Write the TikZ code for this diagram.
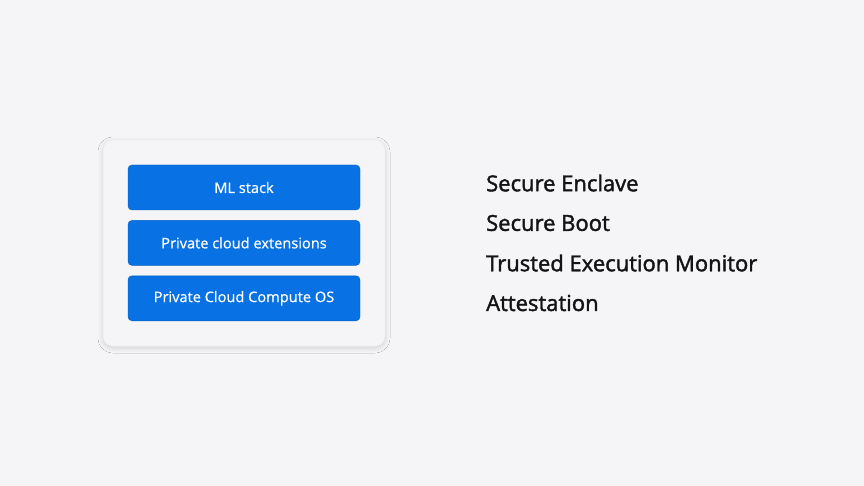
\documentclass[tikz,border=0pt]{standalone}
\usepackage{fontspec}
\setmainfont{Open Sans}
\newfontfamily\featurefont[FakeBold=1.8]{Open Sans}
\newfontfamily\layerfont[FakeBold=0.6]{Open Sans}
\usetikzlibrary{positioning,shadows.blur}
\definecolor{pagebg}{RGB}{245,245,247}
\definecolor{cardbg}{RGB}{245,245,247}
\definecolor{appleblue}{RGB}{8,113,227}
\definecolor{inktext}{RGB}{20,20,22}
\tikzset{
  layerbox/.style={draw=appleblue!85!black, line width=0.4pt, fill=appleblue, rounded corners=4pt,
    minimum width=232pt, minimum height=45pt, text=white, font=\layerfont\fontsize{14.6}{18}\selectfont},
  feature/.style={anchor=west, inner sep=0pt, text=inktext, font=\featurefont\fontsize{22}{27}\selectfont}
}
\begin{document}
\begin{tikzpicture}[x=1pt, y=-1pt, node distance=10pt]
  \fill[pagebg] (0,0) rectangle (864,486);
  \useasboundingbox (0,0) rectangle (864,486);
  % card with the software stack
  \node (card) [fill=cardbg, draw=black!8, line width=0.5pt, rounded corners=10pt, minimum width=282pt, minimum height=206pt,
    blur shadow={shadow blur steps=12, shadow blur radius=5pt, shadow xshift=0pt, shadow yshift=-2pt, shadow opacity=14}] at (244,243) {};
  \node (ml) [layerbox] at (244,187.5) {ML stack};
  \node (ext) [layerbox, below=of ml] {Private cloud extensions};
  \node (os) [layerbox, below=of ext] {Private Cloud Compute OS};
  % hardware features
  \node (enclave) [feature] at (486,183) {Secure Enclave};
  \node (boot) [feature] at (486,223) {Secure Boot};
  \node (monitor) [feature] at (486,263) {Trusted Execution Monitor};
  \node (attest) [feature] at (486,303) {Attestation};
\end{tikzpicture}
\end{document}
